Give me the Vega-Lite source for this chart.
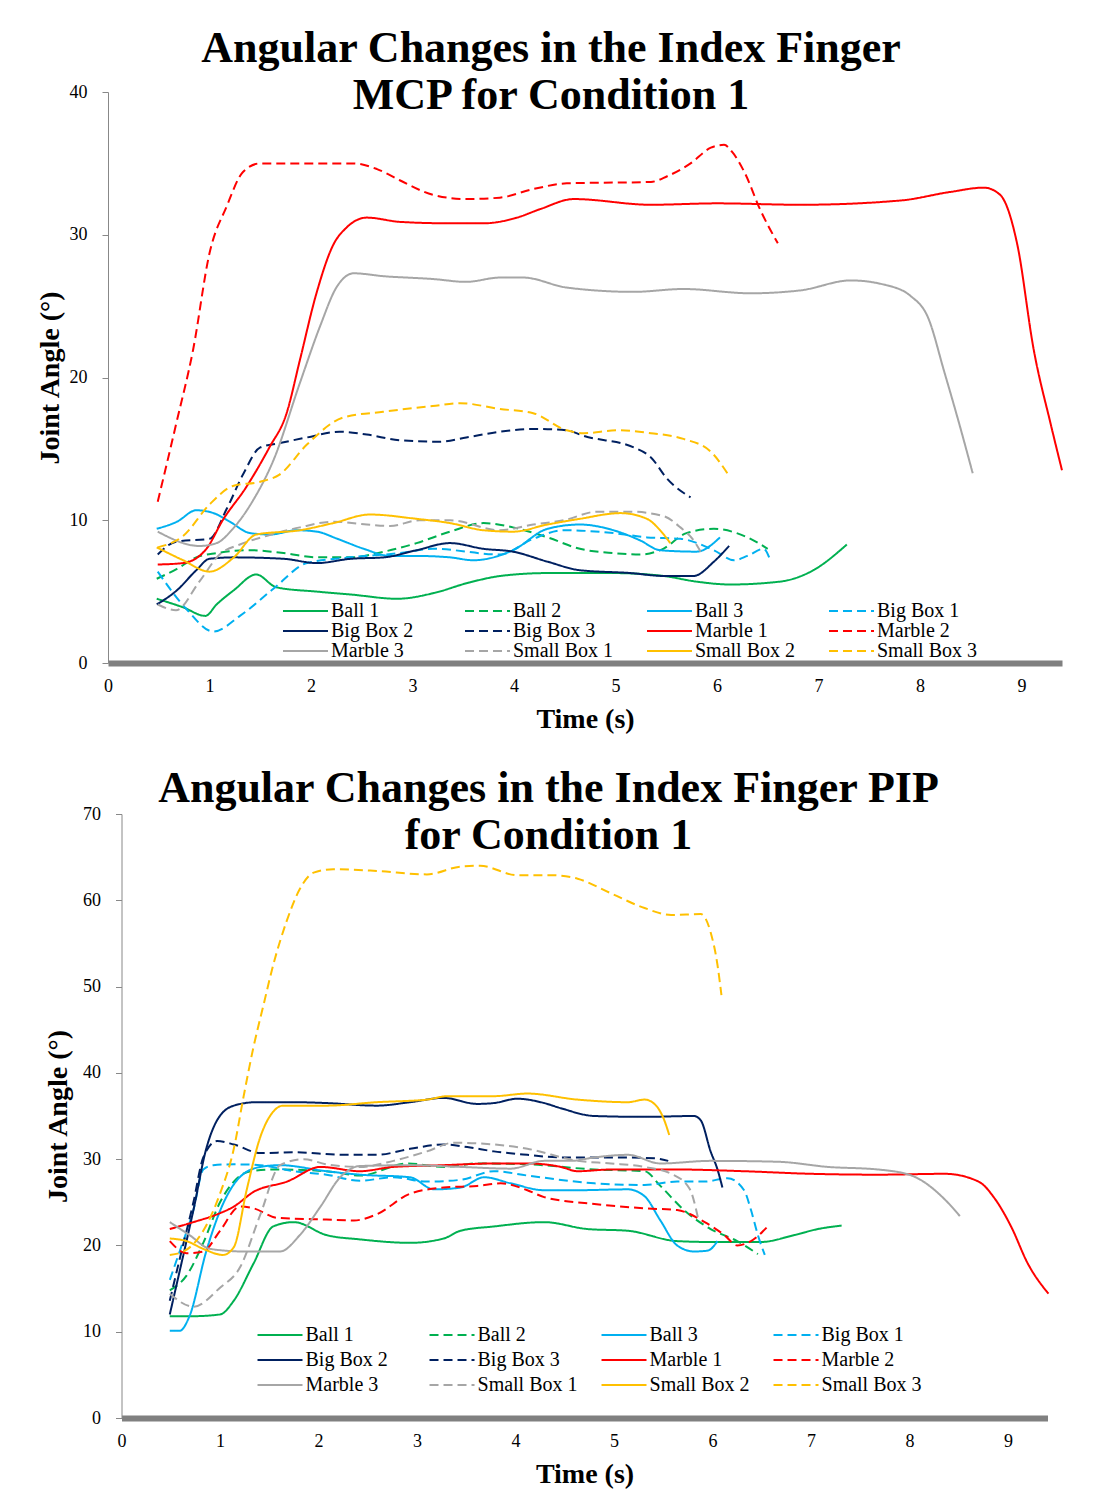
{
"$schema": "https://vega.github.io/schema/vega-lite/v6.json",
"background": "white",
"padding": {"left": 36, "top": 27, "right": 10, "bottom": 5},
"spacing": 34,
"center": true,
"datasets": {
"mcp": [
{"s":"Ball 1","t":0.48,"a":4.5},{"s":"Ball 1","t":0.74,"a":3.9},{"s":"Ball 1","t":0.96,"a":3.3},{"s":"Ball 1","t":1.07,"a":4.1},{"s":"Ball 1","t":1.24,"a":5.1},{"s":"Ball 1","t":1.46,"a":6.2},{"s":"Ball 1","t":1.66,"a":5.3},{"s":"Ball 1","t":2.06,"a":5.0},{"s":"Ball 1","t":2.39,"a":4.8},{"s":"Ball 1","t":2.85,"a":4.5},{"s":"Ball 1","t":3.21,"a":4.9},{"s":"Ball 1","t":3.54,"a":5.6},{"s":"Ball 1","t":3.87,"a":6.1},{"s":"Ball 1","t":4.33,"a":6.3},{"s":"Ball 1","t":4.98,"a":6.3},{"s":"Ball 1","t":5.47,"a":6.1},{"s":"Ball 1","t":5.8,"a":5.7},{"s":"Ball 1","t":6.13,"a":5.5},{"s":"Ball 1","t":6.62,"a":5.7},{"s":"Ball 1","t":6.95,"a":6.5},{"s":"Ball 1","t":7.28,"a":8.3},
{"s":"Ball 2","t":0.48,"a":5.9},{"s":"Ball 2","t":0.68,"a":6.6},{"s":"Ball 2","t":0.87,"a":7.4},{"s":"Ball 2","t":1.07,"a":7.7},{"s":"Ball 2","t":1.4,"a":7.9},{"s":"Ball 2","t":1.73,"a":7.7},{"s":"Ball 2","t":2.06,"a":7.4},{"s":"Ball 2","t":2.39,"a":7.4},{"s":"Ball 2","t":2.72,"a":7.8},{"s":"Ball 2","t":3.04,"a":8.4},{"s":"Ball 2","t":3.37,"a":9.2},{"s":"Ball 2","t":3.7,"a":9.8},{"s":"Ball 2","t":3.99,"a":9.5},{"s":"Ball 2","t":4.33,"a":8.8},{"s":"Ball 2","t":4.65,"a":8.0},{"s":"Ball 2","t":4.98,"a":7.7},{"s":"Ball 2","t":5.24,"a":7.6},{"s":"Ball 2","t":5.47,"a":8.0},{"s":"Ball 2","t":5.7,"a":9.1},{"s":"Ball 2","t":5.97,"a":9.4},{"s":"Ball 2","t":6.3,"a":8.8},{"s":"Ball 2","t":6.5,"a":8.0},
{"s":"Ball 3","t":0.48,"a":9.4},{"s":"Ball 3","t":0.68,"a":9.9},{"s":"Ball 3","t":0.87,"a":10.7},{"s":"Ball 3","t":1.04,"a":10.5},{"s":"Ball 3","t":1.2,"a":9.9},{"s":"Ball 3","t":1.4,"a":9.1},{"s":"Ball 3","t":1.6,"a":9.0},{"s":"Ball 3","t":1.86,"a":9.3},{"s":"Ball 3","t":2.06,"a":9.2},{"s":"Ball 3","t":2.26,"a":8.7},{"s":"Ball 3","t":2.52,"a":8.0},{"s":"Ball 3","t":2.78,"a":7.5},{"s":"Ball 3","t":3.04,"a":7.5},{"s":"Ball 3","t":3.37,"a":7.4},{"s":"Ball 3","t":3.6,"a":7.2},{"s":"Ball 3","t":3.99,"a":7.9},{"s":"Ball 3","t":4.33,"a":9.4},{"s":"Ball 3","t":4.65,"a":9.7},{"s":"Ball 3","t":4.98,"a":9.3},{"s":"Ball 3","t":5.24,"a":8.6},{"s":"Ball 3","t":5.44,"a":7.9},{"s":"Ball 3","t":5.8,"a":7.8},{"s":"Ball 3","t":6.03,"a":8.8},
{"s":"Big Box 1","t":0.49,"a":6.4},{"s":"Big Box 1","t":0.77,"a":3.8},{"s":"Big Box 1","t":1.04,"a":2.2},{"s":"Big Box 1","t":1.3,"a":3.3},{"s":"Big Box 1","t":1.63,"a":5.2},{"s":"Big Box 1","t":1.96,"a":7.0},{"s":"Big Box 1","t":2.38,"a":7.4},{"s":"Big Box 1","t":2.88,"a":7.7},{"s":"Big Box 1","t":3.2,"a":8.0},{"s":"Big Box 1","t":3.86,"a":7.6},{"s":"Big Box 1","t":4.19,"a":8.7},{"s":"Big Box 1","t":4.49,"a":9.3},{"s":"Big Box 1","t":4.98,"a":9.1},{"s":"Big Box 1","t":5.31,"a":8.8},{"s":"Big Box 1","t":5.64,"a":8.7},{"s":"Big Box 1","t":5.97,"a":7.9},{"s":"Big Box 1","t":6.17,"a":7.2},{"s":"Big Box 1","t":6.3,"a":7.5},{"s":"Big Box 1","t":6.46,"a":8.0},{"s":"Big Box 1","t":6.53,"a":7.1},
{"s":"Big Box 2","t":0.48,"a":4.1},{"s":"Big Box 2","t":0.68,"a":5.1},{"s":"Big Box 2","t":0.87,"a":6.5},{"s":"Big Box 2","t":1.0,"a":7.3},{"s":"Big Box 2","t":1.24,"a":7.4},{"s":"Big Box 2","t":1.73,"a":7.3},{"s":"Big Box 2","t":2.06,"a":7.0},{"s":"Big Box 2","t":2.39,"a":7.3},{"s":"Big Box 2","t":2.72,"a":7.4},{"s":"Big Box 2","t":3.04,"a":7.9},{"s":"Big Box 2","t":3.37,"a":8.4},{"s":"Big Box 2","t":3.7,"a":8.0},{"s":"Big Box 2","t":3.99,"a":7.8},{"s":"Big Box 2","t":4.33,"a":7.1},{"s":"Big Box 2","t":4.65,"a":6.5},{"s":"Big Box 2","t":5.15,"a":6.3},{"s":"Big Box 2","t":5.47,"a":6.1},{"s":"Big Box 2","t":5.77,"a":6.1},{"s":"Big Box 2","t":5.97,"a":7.1},{"s":"Big Box 2","t":6.12,"a":8.2},
{"s":"Big Box 3","t":0.49,"a":7.6},{"s":"Big Box 3","t":0.67,"a":8.5},{"s":"Big Box 3","t":1.0,"a":8.7},{"s":"Big Box 3","t":1.17,"a":10.8},{"s":"Big Box 3","t":1.33,"a":13.2},{"s":"Big Box 3","t":1.5,"a":15.1},{"s":"Big Box 3","t":1.69,"a":15.4},{"s":"Big Box 3","t":1.96,"a":15.8},{"s":"Big Box 3","t":2.28,"a":16.2},{"s":"Big Box 3","t":2.55,"a":16.0},{"s":"Big Box 3","t":2.88,"a":15.6},{"s":"Big Box 3","t":3.27,"a":15.5},{"s":"Big Box 3","t":3.53,"a":15.8},{"s":"Big Box 3","t":3.86,"a":16.2},{"s":"Big Box 3","t":4.19,"a":16.4},{"s":"Big Box 3","t":4.52,"a":16.3},{"s":"Big Box 3","t":4.69,"a":15.9},{"s":"Big Box 3","t":5.18,"a":15.1},{"s":"Big Box 3","t":5.35,"a":14.4},{"s":"Big Box 3","t":5.51,"a":12.9},{"s":"Big Box 3","t":5.74,"a":11.6},
{"s":"Marble 1","t":0.49,"a":6.9},{"s":"Marble 1","t":0.74,"a":7.0},{"s":"Marble 1","t":0.97,"a":8.0},{"s":"Marble 1","t":1.13,"a":10.0},{"s":"Marble 1","t":1.36,"a":12.3},{"s":"Marble 1","t":1.59,"a":15.1},{"s":"Marble 1","t":1.76,"a":17.5},{"s":"Marble 1","t":1.89,"a":21.2},{"s":"Marble 1","t":2.05,"a":25.8},{"s":"Marble 1","t":2.22,"a":29.3},{"s":"Marble 1","t":2.35,"a":30.5},{"s":"Marble 1","t":2.55,"a":31.2},{"s":"Marble 1","t":2.88,"a":30.9},{"s":"Marble 1","t":3.37,"a":30.8},{"s":"Marble 1","t":3.7,"a":30.8},{"s":"Marble 1","t":4.03,"a":31.2},{"s":"Marble 1","t":4.26,"a":31.8},{"s":"Marble 1","t":4.59,"a":32.5},{"s":"Marble 1","t":5.35,"a":32.1},{"s":"Marble 1","t":6.0,"a":32.2},{"s":"Marble 1","t":6.82,"a":32.1},{"s":"Marble 1","t":7.81,"a":32.4},{"s":"Marble 1","t":8.3,"a":33.0},{"s":"Marble 1","t":8.63,"a":33.3},{"s":"Marble 1","t":8.79,"a":32.8},{"s":"Marble 1","t":8.96,"a":29.3},{"s":"Marble 1","t":9.12,"a":22.0},{"s":"Marble 1","t":9.29,"a":16.7},{"s":"Marble 1","t":9.4,"a":13.5},
{"s":"Marble 2","t":0.49,"a":11.3},{"s":"Marble 2","t":0.67,"a":16.7},{"s":"Marble 2","t":0.84,"a":22.0},{"s":"Marble 2","t":1.0,"a":28.7},{"s":"Marble 2","t":1.17,"a":32.0},{"s":"Marble 2","t":1.33,"a":34.4},{"s":"Marble 2","t":1.5,"a":35.0},{"s":"Marble 2","t":2.42,"a":35.0},{"s":"Marble 2","t":2.65,"a":34.6},{"s":"Marble 2","t":2.88,"a":33.8},{"s":"Marble 2","t":3.2,"a":32.8},{"s":"Marble 2","t":3.53,"a":32.5},{"s":"Marble 2","t":3.86,"a":32.6},{"s":"Marble 2","t":4.19,"a":33.2},{"s":"Marble 2","t":4.52,"a":33.6},{"s":"Marble 2","t":5.35,"a":33.7},{"s":"Marble 2","t":5.51,"a":34.1},{"s":"Marble 2","t":5.74,"a":35.0},{"s":"Marble 2","t":5.94,"a":36.1},{"s":"Marble 2","t":6.07,"a":36.3},{"s":"Marble 2","t":6.15,"a":35.8},{"s":"Marble 2","t":6.27,"a":34.4},{"s":"Marble 2","t":6.43,"a":31.7},{"s":"Marble 2","t":6.6,"a":29.4},
{"s":"Marble 3","t":0.49,"a":9.2},{"s":"Marble 3","t":0.9,"a":8.2},{"s":"Marble 3","t":1.07,"a":8.4},{"s":"Marble 3","t":1.23,"a":9.4},{"s":"Marble 3","t":1.43,"a":11.4},{"s":"Marble 3","t":1.63,"a":14.2},{"s":"Marble 3","t":1.89,"a":19.6},{"s":"Marble 3","t":2.09,"a":23.6},{"s":"Marble 3","t":2.25,"a":26.3},{"s":"Marble 3","t":2.42,"a":27.3},{"s":"Marble 3","t":2.71,"a":27.1},{"s":"Marble 3","t":3.2,"a":26.9},{"s":"Marble 3","t":3.53,"a":26.7},{"s":"Marble 3","t":3.86,"a":27.0},{"s":"Marble 3","t":4.09,"a":27.0},{"s":"Marble 3","t":4.52,"a":26.3},{"s":"Marble 3","t":5.18,"a":26.0},{"s":"Marble 3","t":5.67,"a":26.2},{"s":"Marble 3","t":6.33,"a":25.9},{"s":"Marble 3","t":6.82,"a":26.1},{"s":"Marble 3","t":7.32,"a":26.8},{"s":"Marble 3","t":7.65,"a":26.5},{"s":"Marble 3","t":7.91,"a":25.7},{"s":"Marble 3","t":8.08,"a":24.2},{"s":"Marble 3","t":8.24,"a":20.4},{"s":"Marble 3","t":8.37,"a":17.2},{"s":"Marble 3","t":8.52,"a":13.3},
{"s":"Small Box 1","t":0.49,"a":4.1},{"s":"Small Box 1","t":0.67,"a":3.7},{"s":"Small Box 1","t":0.9,"a":5.7},{"s":"Small Box 1","t":1.1,"a":7.6},{"s":"Small Box 1","t":1.3,"a":8.3},{"s":"Small Box 1","t":1.56,"a":8.9},{"s":"Small Box 1","t":1.89,"a":9.5},{"s":"Small Box 1","t":2.22,"a":9.9},{"s":"Small Box 1","t":2.55,"a":9.7},{"s":"Small Box 1","t":2.78,"a":9.6},{"s":"Small Box 1","t":3.07,"a":10.0},{"s":"Small Box 1","t":3.37,"a":10.0},{"s":"Small Box 1","t":3.86,"a":9.3},{"s":"Small Box 1","t":4.19,"a":9.7},{"s":"Small Box 1","t":4.49,"a":10.0},{"s":"Small Box 1","t":4.82,"a":10.6},{"s":"Small Box 1","t":5.15,"a":10.6},{"s":"Small Box 1","t":5.47,"a":10.3},{"s":"Small Box 1","t":5.64,"a":9.5},{"s":"Small Box 1","t":5.77,"a":8.6},{"s":"Small Box 1","t":5.84,"a":7.8},
{"s":"Small Box 2","t":0.48,"a":8.1},{"s":"Small Box 2","t":0.74,"a":7.2},{"s":"Small Box 2","t":1.0,"a":6.4},{"s":"Small Box 2","t":1.24,"a":7.4},{"s":"Small Box 2","t":1.46,"a":9.0},{"s":"Small Box 2","t":1.89,"a":9.3},{"s":"Small Box 2","t":2.22,"a":9.8},{"s":"Small Box 2","t":2.58,"a":10.4},{"s":"Small Box 2","t":3.04,"a":10.1},{"s":"Small Box 2","t":3.37,"a":9.8},{"s":"Small Box 2","t":3.7,"a":9.3},{"s":"Small Box 2","t":3.99,"a":9.2},{"s":"Small Box 2","t":4.33,"a":9.7},{"s":"Small Box 2","t":4.65,"a":10.1},{"s":"Small Box 2","t":5.05,"a":10.5},{"s":"Small Box 2","t":5.31,"a":10.1},{"s":"Small Box 2","t":5.44,"a":9.3},{"s":"Small Box 2","t":5.54,"a":8.4},
{"s":"Small Box 3","t":0.49,"a":8.1},{"s":"Small Box 3","t":0.74,"a":8.9},{"s":"Small Box 3","t":1.0,"a":11.1},{"s":"Small Box 3","t":1.23,"a":12.4},{"s":"Small Box 3","t":1.5,"a":12.7},{"s":"Small Box 3","t":1.69,"a":13.2},{"s":"Small Box 3","t":1.96,"a":15.3},{"s":"Small Box 3","t":2.32,"a":17.2},{"s":"Small Box 3","t":2.71,"a":17.6},{"s":"Small Box 3","t":3.2,"a":18.0},{"s":"Small Box 3","t":3.47,"a":18.2},{"s":"Small Box 3","t":3.86,"a":17.8},{"s":"Small Box 3","t":4.19,"a":17.5},{"s":"Small Box 3","t":4.52,"a":16.3},{"s":"Small Box 3","t":4.69,"a":16.1},{"s":"Small Box 3","t":5.02,"a":16.3},{"s":"Small Box 3","t":5.35,"a":16.1},{"s":"Small Box 3","t":5.67,"a":15.7},{"s":"Small Box 3","t":5.94,"a":14.8},{"s":"Small Box 3","t":6.12,"a":13.1}
],
"pip": [
{"s":"Ball 1","t":0.49,"a":11.8},{"s":"Ball 1","t":0.73,"a":11.8},{"s":"Ball 1","t":1.0,"a":12.0},{"s":"Ball 1","t":1.14,"a":13.6},{"s":"Ball 1","t":1.34,"a":17.9},{"s":"Ball 1","t":1.54,"a":22.2},{"s":"Ball 1","t":1.75,"a":22.7},{"s":"Ball 1","t":2.08,"a":21.2},{"s":"Ball 1","t":2.42,"a":20.7},{"s":"Ball 1","t":2.93,"a":20.3},{"s":"Ball 1","t":3.27,"a":20.8},{"s":"Ball 1","t":3.44,"a":21.7},{"s":"Ball 1","t":3.78,"a":22.2},{"s":"Ball 1","t":4.29,"a":22.7},{"s":"Ball 1","t":4.73,"a":21.9},{"s":"Ball 1","t":5.14,"a":21.7},{"s":"Ball 1","t":5.64,"a":20.5},{"s":"Ball 1","t":5.98,"a":20.4},{"s":"Ball 1","t":6.49,"a":20.4},{"s":"Ball 1","t":6.83,"a":21.2},{"s":"Ball 1","t":7.07,"a":21.9},{"s":"Ball 1","t":7.31,"a":22.3},
{"s":"Ball 2","t":0.49,"a":14.8},{"s":"Ball 2","t":0.66,"a":16.5},{"s":"Ball 2","t":0.83,"a":20.3},{"s":"Ball 2","t":1.0,"a":25.0},{"s":"Ball 2","t":1.14,"a":27.4},{"s":"Ball 2","t":1.31,"a":28.6},{"s":"Ball 2","t":1.58,"a":28.8},{"s":"Ball 2","t":2.08,"a":28.6},{"s":"Ball 2","t":2.42,"a":28.1},{"s":"Ball 2","t":2.9,"a":29.5},{"s":"Ball 2","t":3.27,"a":29.1},{"s":"Ball 2","t":3.61,"a":29.5},{"s":"Ball 2","t":4.12,"a":29.4},{"s":"Ball 2","t":4.8,"a":28.8},{"s":"Ball 2","t":5.31,"a":28.6},{"s":"Ball 2","t":5.47,"a":26.9},{"s":"Ball 2","t":5.71,"a":24.1},{"s":"Ball 2","t":5.98,"a":21.9},{"s":"Ball 2","t":6.25,"a":20.5},{"s":"Ball 2","t":6.46,"a":19.0},
{"s":"Ball 3","t":0.49,"a":10.1},{"s":"Ball 3","t":0.59,"a":10.1},{"s":"Ball 3","t":0.69,"a":11.8},{"s":"Ball 3","t":0.86,"a":19.3},{"s":"Ball 3","t":1.03,"a":24.8},{"s":"Ball 3","t":1.2,"a":27.9},{"s":"Ball 3","t":1.41,"a":29.1},{"s":"Ball 3","t":1.61,"a":29.3},{"s":"Ball 3","t":2.08,"a":28.6},{"s":"Ball 3","t":2.42,"a":28.2},{"s":"Ball 3","t":2.93,"a":27.9},{"s":"Ball 3","t":3.17,"a":26.5},{"s":"Ball 3","t":3.44,"a":26.7},{"s":"Ball 3","t":3.68,"a":27.9},{"s":"Ball 3","t":3.95,"a":27.2},{"s":"Ball 3","t":4.29,"a":26.4},{"s":"Ball 3","t":4.63,"a":26.4},{"s":"Ball 3","t":5.14,"a":26.5},{"s":"Ball 3","t":5.31,"a":25.7},{"s":"Ball 3","t":5.47,"a":22.9},{"s":"Ball 3","t":5.64,"a":20.0},{"s":"Ball 3","t":5.81,"a":19.3},{"s":"Ball 3","t":5.95,"a":19.4},{"s":"Ball 3","t":6.05,"a":20.5},
{"s":"Big Box 1","t":0.49,"a":16.0},{"s":"Big Box 1","t":0.59,"a":19.3},{"s":"Big Box 1","t":0.73,"a":24.1},{"s":"Big Box 1","t":0.83,"a":28.8},{"s":"Big Box 1","t":0.93,"a":29.3},{"s":"Big Box 1","t":1.14,"a":29.4},{"s":"Big Box 1","t":1.41,"a":29.3},{"s":"Big Box 1","t":1.75,"a":28.6},{"s":"Big Box 1","t":2.08,"a":28.2},{"s":"Big Box 1","t":2.42,"a":27.5},{"s":"Big Box 1","t":2.76,"a":27.9},{"s":"Big Box 1","t":3.1,"a":27.4},{"s":"Big Box 1","t":3.44,"a":27.6},{"s":"Big Box 1","t":3.78,"a":28.6},{"s":"Big Box 1","t":4.12,"a":28.1},{"s":"Big Box 1","t":4.8,"a":27.2},{"s":"Big Box 1","t":5.31,"a":27.0},{"s":"Big Box 1","t":5.64,"a":27.4},{"s":"Big Box 1","t":5.92,"a":27.4},{"s":"Big Box 1","t":6.15,"a":27.8},{"s":"Big Box 1","t":6.32,"a":26.4},{"s":"Big Box 1","t":6.39,"a":24.1},{"s":"Big Box 1","t":6.46,"a":21.2},{"s":"Big Box 1","t":6.53,"a":18.9},
{"s":"Big Box 2","t":0.49,"a":12.0},{"s":"Big Box 2","t":0.59,"a":17.0},{"s":"Big Box 2","t":0.73,"a":24.1},{"s":"Big Box 2","t":0.86,"a":31.2},{"s":"Big Box 2","t":0.97,"a":34.5},{"s":"Big Box 2","t":1.14,"a":36.2},{"s":"Big Box 2","t":1.37,"a":36.6},{"s":"Big Box 2","t":1.75,"a":36.6},{"s":"Big Box 2","t":2.08,"a":36.5},{"s":"Big Box 2","t":2.59,"a":36.2},{"s":"Big Box 2","t":2.93,"a":36.6},{"s":"Big Box 2","t":3.27,"a":37.1},{"s":"Big Box 2","t":3.61,"a":36.4},{"s":"Big Box 2","t":3.78,"a":36.5},{"s":"Big Box 2","t":4.02,"a":37.0},{"s":"Big Box 2","t":4.29,"a":36.5},{"s":"Big Box 2","t":4.46,"a":35.9},{"s":"Big Box 2","t":4.8,"a":35.0},{"s":"Big Box 2","t":5.31,"a":34.9},{"s":"Big Box 2","t":5.81,"a":35.0},{"s":"Big Box 2","t":5.88,"a":34.5},{"s":"Big Box 2","t":5.98,"a":30.9},{"s":"Big Box 2","t":6.05,"a":28.8},{"s":"Big Box 2","t":6.1,"a":26.7},
{"s":"Big Box 3","t":0.49,"a":13.6},{"s":"Big Box 3","t":0.59,"a":18.4},{"s":"Big Box 3","t":0.73,"a":25.0},{"s":"Big Box 3","t":0.83,"a":30.2},{"s":"Big Box 3","t":0.97,"a":32.1},{"s":"Big Box 3","t":1.14,"a":31.7},{"s":"Big Box 3","t":1.41,"a":30.7},{"s":"Big Box 3","t":1.75,"a":30.8},{"s":"Big Box 3","t":2.25,"a":30.5},{"s":"Big Box 3","t":2.59,"a":30.5},{"s":"Big Box 3","t":2.93,"a":31.2},{"s":"Big Box 3","t":3.27,"a":31.7},{"s":"Big Box 3","t":3.51,"a":31.4},{"s":"Big Box 3","t":3.78,"a":30.9},{"s":"Big Box 3","t":4.12,"a":30.5},{"s":"Big Box 3","t":4.46,"a":30.2},{"s":"Big Box 3","t":4.97,"a":30.2},{"s":"Big Box 3","t":5.41,"a":30.1},{"s":"Big Box 3","t":5.55,"a":29.8},
{"s":"Marble 1","t":0.49,"a":21.9},{"s":"Marble 1","t":0.73,"a":22.7},{"s":"Marble 1","t":0.97,"a":23.6},{"s":"Marble 1","t":1.14,"a":24.5},{"s":"Marble 1","t":1.34,"a":26.2},{"s":"Marble 1","t":1.68,"a":27.4},{"s":"Marble 1","t":2.02,"a":29.1},{"s":"Marble 1","t":2.42,"a":28.6},{"s":"Marble 1","t":2.76,"a":29.1},{"s":"Marble 1","t":3.27,"a":29.3},{"s":"Marble 1","t":3.78,"a":29.5},{"s":"Marble 1","t":4.12,"a":29.5},{"s":"Marble 1","t":4.46,"a":29.1},{"s":"Marble 1","t":4.63,"a":28.6},{"s":"Marble 1","t":4.97,"a":28.8},{"s":"Marble 1","t":5.64,"a":28.8},{"s":"Marble 1","t":6.32,"a":28.6},{"s":"Marble 1","t":7.0,"a":28.3},{"s":"Marble 1","t":7.68,"a":28.2},{"s":"Marble 1","t":8.36,"a":28.3},{"s":"Marble 1","t":8.7,"a":27.4},{"s":"Marble 1","t":8.86,"a":25.5},{"s":"Marble 1","t":9.03,"a":22.2},{"s":"Marble 1","t":9.2,"a":17.9},{"s":"Marble 1","t":9.41,"a":14.4},
{"s":"Marble 2","t":0.49,"a":20.5},{"s":"Marble 2","t":0.66,"a":19.1},{"s":"Marble 2","t":0.83,"a":19.3},{"s":"Marble 2","t":1.0,"a":21.7},{"s":"Marble 2","t":1.2,"a":24.5},{"s":"Marble 2","t":1.34,"a":24.3},{"s":"Marble 2","t":1.58,"a":23.2},{"s":"Marble 2","t":2.08,"a":23.0},{"s":"Marble 2","t":2.36,"a":22.9},{"s":"Marble 2","t":2.59,"a":23.6},{"s":"Marble 2","t":2.93,"a":26.0},{"s":"Marble 2","t":3.27,"a":26.7},{"s":"Marble 2","t":3.61,"a":26.9},{"s":"Marble 2","t":3.85,"a":27.2},{"s":"Marble 2","t":4.12,"a":26.4},{"s":"Marble 2","t":4.29,"a":25.6},{"s":"Marble 2","t":4.8,"a":24.8},{"s":"Marble 2","t":5.31,"a":24.3},{"s":"Marble 2","t":5.64,"a":24.1},{"s":"Marble 2","t":5.92,"a":22.7},{"s":"Marble 2","t":6.12,"a":21.2},{"s":"Marble 2","t":6.25,"a":20.0},{"s":"Marble 2","t":6.39,"a":20.5},{"s":"Marble 2","t":6.56,"a":22.2},
{"s":"Marble 3","t":0.49,"a":22.7},{"s":"Marble 3","t":0.69,"a":21.2},{"s":"Marble 3","t":0.9,"a":19.6},{"s":"Marble 3","t":1.24,"a":19.3},{"s":"Marble 3","t":1.61,"a":19.3},{"s":"Marble 3","t":1.81,"a":21.2},{"s":"Marble 3","t":2.02,"a":24.5},{"s":"Marble 3","t":2.22,"a":27.9},{"s":"Marble 3","t":2.42,"a":29.2},{"s":"Marble 3","t":2.93,"a":29.3},{"s":"Marble 3","t":3.44,"a":29.1},{"s":"Marble 3","t":3.95,"a":28.9},{"s":"Marble 3","t":4.29,"a":29.8},{"s":"Marble 3","t":4.56,"a":29.8},{"s":"Marble 3","t":4.8,"a":30.2},{"s":"Marble 3","t":5.14,"a":30.5},{"s":"Marble 3","t":5.47,"a":29.5},{"s":"Marble 3","t":5.98,"a":29.8},{"s":"Marble 3","t":6.66,"a":29.7},{"s":"Marble 3","t":7.17,"a":29.1},{"s":"Marble 3","t":7.68,"a":28.8},{"s":"Marble 3","t":8.02,"a":28.1},{"s":"Marble 3","t":8.36,"a":25.3},{"s":"Marble 3","t":8.51,"a":23.4},
{"s":"Small Box 1","t":0.49,"a":14.4},{"s":"Small Box 1","t":0.73,"a":12.9},{"s":"Small Box 1","t":1.0,"a":15.1},{"s":"Small Box 1","t":1.2,"a":17.4},{"s":"Small Box 1","t":1.41,"a":23.6},{"s":"Small Box 1","t":1.61,"a":29.3},{"s":"Small Box 1","t":1.85,"a":30.0},{"s":"Small Box 1","t":2.08,"a":29.4},{"s":"Small Box 1","t":2.42,"a":29.1},{"s":"Small Box 1","t":2.76,"a":29.8},{"s":"Small Box 1","t":3.1,"a":30.9},{"s":"Small Box 1","t":3.37,"a":31.9},{"s":"Small Box 1","t":3.78,"a":31.7},{"s":"Small Box 1","t":4.12,"a":31.2},{"s":"Small Box 1","t":4.63,"a":29.8},{"s":"Small Box 1","t":4.97,"a":29.5},{"s":"Small Box 1","t":5.31,"a":29.1},{"s":"Small Box 1","t":5.6,"a":28.2},{"s":"Small Box 1","t":5.77,"a":26.5},{"s":"Small Box 1","t":5.85,"a":23.3},
{"s":"Small Box 2","t":0.49,"a":20.8},{"s":"Small Box 2","t":0.66,"a":20.5},{"s":"Small Box 2","t":0.83,"a":19.6},{"s":"Small Box 2","t":1.03,"a":18.9},{"s":"Small Box 2","t":1.14,"a":19.8},{"s":"Small Box 2","t":1.27,"a":26.4},{"s":"Small Box 2","t":1.41,"a":32.6},{"s":"Small Box 2","t":1.54,"a":35.5},{"s":"Small Box 2","t":1.64,"a":36.2},{"s":"Small Box 2","t":2.08,"a":36.2},{"s":"Small Box 2","t":2.59,"a":36.6},{"s":"Small Box 2","t":3.1,"a":36.9},{"s":"Small Box 2","t":3.31,"a":37.3},{"s":"Small Box 2","t":3.78,"a":37.3},{"s":"Small Box 2","t":4.12,"a":37.6},{"s":"Small Box 2","t":4.63,"a":36.9},{"s":"Small Box 2","t":5.14,"a":36.6},{"s":"Small Box 2","t":5.31,"a":36.9},{"s":"Small Box 2","t":5.41,"a":36.4},{"s":"Small Box 2","t":5.51,"a":34.5},{"s":"Small Box 2","t":5.56,"a":32.8},
{"s":"Small Box 3","t":0.49,"a":18.9},{"s":"Small Box 3","t":0.63,"a":19.3},{"s":"Small Box 3","t":0.83,"a":21.7},{"s":"Small Box 3","t":1.0,"a":26.0},{"s":"Small Box 3","t":1.14,"a":31.2},{"s":"Small Box 3","t":1.24,"a":37.3},{"s":"Small Box 3","t":1.34,"a":43.0},{"s":"Small Box 3","t":1.44,"a":47.8},{"s":"Small Box 3","t":1.54,"a":52.5},{"s":"Small Box 3","t":1.68,"a":57.7},{"s":"Small Box 3","t":1.81,"a":61.3},{"s":"Small Box 3","t":1.95,"a":63.2},{"s":"Small Box 3","t":2.15,"a":63.6},{"s":"Small Box 3","t":2.59,"a":63.4},{"s":"Small Box 3","t":3.1,"a":63.0},{"s":"Small Box 3","t":3.44,"a":63.9},{"s":"Small Box 3","t":3.64,"a":64.0},{"s":"Small Box 3","t":4.02,"a":62.9},{"s":"Small Box 3","t":4.39,"a":62.9},{"s":"Small Box 3","t":4.63,"a":62.5},{"s":"Small Box 3","t":4.97,"a":60.8},{"s":"Small Box 3","t":5.31,"a":59.1},{"s":"Small Box 3","t":5.58,"a":58.3},{"s":"Small Box 3","t":5.88,"a":58.4},{"s":"Small Box 3","t":5.98,"a":56.3},{"s":"Small Box 3","t":6.05,"a":52.5},{"s":"Small Box 3","t":6.09,"a":49.0}
]
},
"vconcat": [
{
"data": {"name": "mcp"},
"width": 954,
"height": 571,
"title": {"text": ["Angular Changes in the Index  Finger", "MCP for Condition 1"], "offset": -35},
"mark": {"type": "line", "interpolate": "monotone", "strokeWidth": 2},
"encoding": {
"x": {"field": "t", "type": "quantitative", "scale": {"domain": [0, 9.4], "nice": false}, "axis": {"values": [0,1,2,3,4,5,6,7,8,9], "title": "Time (s)"}},
"y": {"field": "a", "type": "quantitative", "scale": {"domain": [0, 40], "nice": false}, "axis": {"values": [0,10,20,30,40], "title": "Joint Angle (°)", "titlePadding": 5}},
"color": {"field": "s", "type": "nominal", "scale": {"domain": ["Ball 1","Ball 2","Ball 3","Big Box 1","Big Box 2","Big Box 3","Marble 1","Marble 2","Marble 3","Small Box 1","Small Box 2","Small Box 3"], "range": ["#00B050","#00B050","#00B0F0","#00B0F0","#002060","#002060","#FF0000","#FF0000","#A6A6A6","#A6A6A6","#FFC000","#FFC000"]}, "legend": {"legendX": 175, "legendY": 509, "columnPadding": 29, "rowPadding": 0}},
"strokeDash": {"field": "s", "type": "nominal", "scale": {"domain": ["Ball 1","Ball 2","Ball 3","Big Box 1","Big Box 2","Big Box 3","Marble 1","Marble 2","Marble 3","Small Box 1","Small Box 2","Small Box 3"], "range": [[1,0],[9,5],[1,0],[9,5],[1,0],[9,5],[1,0],[9,5],[1,0],[9,5],[1,0],[9,5]]}, "legend": {"legendX": 175, "legendY": 509, "columnPadding": 29, "rowPadding": 0}}
}
},
{
"data": {"name": "pip"},
"width": 926,
"height": 604,
"title": {"text": ["Angular Changes in the Index  Finger PIP", "for Condition 1"], "offset": -53},
"mark": {"type": "line", "interpolate": "monotone", "strokeWidth": 2},
"encoding": {
"x": {"field": "t", "type": "quantitative", "scale": {"domain": [0, 9.4], "nice": false}, "axis": {"values": [0,1,2,3,4,5,6,7,8,9], "title": "Time (s)"}},
"y": {"field": "a", "type": "quantitative", "scale": {"domain": [0, 70], "nice": false}, "axis": {"values": [0,10,20,30,40,50,60,70], "title": "Joint Angle (°)", "titlePadding": 10}},
"color": {"field": "s", "type": "nominal", "scale": {"domain": ["Ball 1","Ball 2","Ball 3","Big Box 1","Big Box 2","Big Box 3","Marble 1","Marble 2","Marble 3","Small Box 1","Small Box 2","Small Box 3"], "range": ["#00B050","#00B050","#00B0F0","#00B0F0","#002060","#002060","#FF0000","#FF0000","#A6A6A6","#A6A6A6","#FFC000","#FFC000"]}, "legend": {"legendX": 136, "legendY": 511, "columnPadding": 19, "rowPadding": 5}},
"strokeDash": {"field": "s", "type": "nominal", "scale": {"domain": ["Ball 1","Ball 2","Ball 3","Big Box 1","Big Box 2","Big Box 3","Marble 1","Marble 2","Marble 3","Small Box 1","Small Box 2","Small Box 3"], "range": [[1,0],[9,5],[1,0],[9,5],[1,0],[9,5],[1,0],[9,5],[1,0],[9,5],[1,0],[9,5]]}, "legend": {"legendX": 136, "legendY": 511, "columnPadding": 19, "rowPadding": 5}}
}
}
],
"resolve": {"scale": {"color": "independent", "strokeDash": "independent"}, "legend": {"color": "independent", "strokeDash": "independent"}},
"config": {
"view": {"stroke": null},
"font": "Liberation Serif",
"title": {"font": "Liberation Serif", "fontSize": 44, "fontWeight": "bold", "color": "black", "lineHeight": 47, "anchor": "middle", "frame": "bounds"},
"axis": {"grid": false, "labelFont": "Liberation Serif", "labelFontSize": 18, "labelColor": "black", "titleFont": "Liberation Serif", "titleFontSize": 28, "titleFontWeight": "bold", "titleColor": "black"},
"axisX": {"domainColor": "#808080", "domainWidth": 6, "ticks": false, "labelPadding": 14, "titlePadding": 10, "labelAngle": 0, "labelFlush": false},
"axisY": {"domainColor": "#888888", "domainWidth": 1, "tickColor": "#888888", "tickSize": 6, "labelPadding": 15},
"legend": {"orient": "none", "direction": "horizontal", "columns": 4, "gridAlign": "all", "title": null, "padding": 0, "symbolType": "M-1.333,0H4.667", "symbolSize": 225, "symbolStrokeWidth": 2, "labelFont": "Liberation Serif", "labelFontSize": 20, "labelColor": "black", "labelOffset": 28, "labelLimit": 300}
}
}
